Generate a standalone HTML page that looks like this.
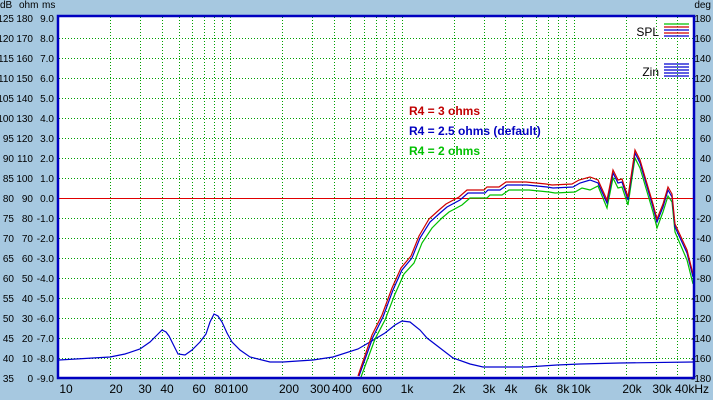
<!DOCTYPE html>
<html><head><meta charset="utf-8"><style>
html,body{margin:0;padding:0;background:#a6c8e0;}
svg{display:block;font-family:"Liberation Sans",sans-serif;}
</style></head><body>
<svg width="713" height="400" viewBox="0 0 713 400" xmlns="http://www.w3.org/2000/svg">
<rect width="713" height="400" fill="#a6c8e0"/>
<rect x="59" y="17" width="634" height="360" fill="#fff"/>
<g stroke="#00a000" stroke-width="1" stroke-dasharray="1,2">
<line x1="59" x2="693" y1="38.5" y2="38.5"/><line x1="59" x2="693" y1="58.5" y2="58.5"/><line x1="59" x2="693" y1="78.5" y2="78.5"/><line x1="59" x2="693" y1="98.5" y2="98.5"/><line x1="59" x2="693" y1="118.5" y2="118.5"/><line x1="59" x2="693" y1="138.5" y2="138.5"/><line x1="59" x2="693" y1="158.5" y2="158.5"/><line x1="59" x2="693" y1="178.5" y2="178.5"/><line x1="59" x2="693" y1="218.5" y2="218.5"/><line x1="59" x2="693" y1="238.5" y2="238.5"/><line x1="59" x2="693" y1="258.5" y2="258.5"/><line x1="59" x2="693" y1="278.5" y2="278.5"/><line x1="59" x2="693" y1="298.5" y2="298.5"/><line x1="59" x2="693" y1="318.5" y2="318.5"/><line x1="59" x2="693" y1="338.5" y2="338.5"/><line x1="59" x2="693" y1="358.5" y2="358.5"/>
<g>
<line y1="17" y2="377" x1="110.5" x2="110.5"/><line y1="17" y2="377" x1="140.5" x2="140.5"/><line y1="17" y2="377" x1="162.5" x2="162.5"/><line y1="17" y2="377" x1="179.5" x2="179.5"/><line y1="17" y2="377" x1="192.5" x2="192.5"/><line y1="17" y2="377" x1="204.5" x2="204.5"/><line y1="17" y2="377" x1="214.5" x2="214.5"/><line y1="17" y2="377" x1="222.5" x2="222.5"/><line y1="17" y2="377" x1="230.5" x2="230.5"/>
<line y1="17" y2="377" x1="282.5" x2="282.5"/><line y1="17" y2="377" x1="312.5" x2="312.5"/><line y1="17" y2="377" x1="334.5" x2="334.5"/><line y1="17" y2="377" x1="350.5" x2="350.5"/><line y1="17" y2="377" x1="364.5" x2="364.5"/><line y1="17" y2="377" x1="376.5" x2="376.5"/><line y1="17" y2="377" x1="386.5" x2="386.5"/><line y1="17" y2="377" x1="394.5" x2="394.5"/><line y1="17" y2="377" x1="402.5" x2="402.5"/>
<line y1="17" y2="377" x1="454.5" x2="454.5"/><line y1="17" y2="377" x1="484.5" x2="484.5"/><line y1="17" y2="377" x1="505.5" x2="505.5"/><line y1="17" y2="377" x1="522.5" x2="522.5"/><line y1="17" y2="377" x1="536.5" x2="536.5"/><line y1="17" y2="377" x1="548.5" x2="548.5"/><line y1="17" y2="377" x1="558.5" x2="558.5"/><line y1="17" y2="377" x1="566.5" x2="566.5"/><line y1="17" y2="377" x1="574.5" x2="574.5"/>
<line y1="17" y2="377" x1="626.5" x2="626.5"/><line y1="17" y2="377" x1="656.5" x2="656.5"/><line y1="17" y2="377" x1="677.5" x2="677.5"/>
</g></g>
<line x1="59" x2="693" y1="198.5" y2="198.5" stroke="#e00000" stroke-width="1"/>
<polyline fill="none" stroke="#0000d0" stroke-width="1.2" points="59,360 110,357 125,354 140,349 150,342 157,335 162,330 166,332 169,336 174,346 178,354 185,355 192,350 200,342 206,334 210,322 214,314 218,316 222,322 227,333 232,342 240,350 250,357 270,362 283,362 313,360 333,357 358,349 370,342 385,333 395,325 402,321 410,322 420,330 427,338 440,348 453,358 470,364 483,367 527,367 557,365 580,364 620,363 693,362"/>
<polyline fill="none" stroke="#00c000" stroke-width="1.2" points="361,377 375,339 385,320 395,294 404,274 414,263 422,243 432,228 442,218 449,212 462,205 470,198 487,198 490,195 502,195 509,190 529,190 549,192 555,193 575,192 582,188 590,190 598,186 607,208 613,178 618,188 622,187 628,205 635,158 640,168 653,212 657,228 663,212 668,196 672,202 675,232 687,260 693,284"/>
<polyline fill="none" stroke="#0000d0" stroke-width="1.2" points="359,376 373,337 383,317 393,290 402,270 412,258 420,238 430,222 440,213 447,207 460,200 468,193 485,193 488,190 500,190 507,185 527,185 547,187 553,188 573,187 580,183 590,180 598,183 607,203 613,173 618,183 622,182 628,200 635,153 640,163 653,207 657,222 663,207 668,190 672,197 675,227 687,253 693,277"/>
<polyline fill="none" stroke="#d00000" stroke-width="1.2" points="358,376 372,335 382,315 392,288 401,268 411,256 419,236 429,219 439,210 446,204 459,197 467,190 484,190 487,187 499,187 506,182 526,182 546,184 552,185 572,184 579,180 590,177 598,180 607,200 613,170 618,180 622,179 628,197 635,150 640,160 653,204 657,219 663,204 668,187 672,194 675,224 687,250 693,274"/>
<rect x="58" y="16" width="636" height="362" fill="none" stroke="#0000c0" stroke-width="2.5"/>
<text x="659" y="36" font-size="12" text-anchor="end">SPL</text>
<g stroke-width="1.3"><line x1="664" x2="689" y1="24" y2="24" stroke="#00c000"/><line x1="664" x2="689" y1="27" y2="27" stroke="#d00000"/><line x1="664" x2="689" y1="30" y2="30" stroke="#0000d0"/><line x1="664" x2="689" y1="33" y2="33" stroke="#d00000"/><line x1="664" x2="689" y1="36" y2="36" stroke="#0000d0"/>
<line x1="664" x2="689" y1="64" y2="64" stroke="#0000d0"/><line x1="664" x2="689" y1="67" y2="67" stroke="#0000d0"/><line x1="664" x2="689" y1="70" y2="70" stroke="#0000d0"/><line x1="664" x2="689" y1="73" y2="73" stroke="#0000d0"/><line x1="664" x2="689" y1="76" y2="76" stroke="#0000d0"/></g>
<text x="659" y="76" font-size="12" text-anchor="end">Zin</text>
<g font-size="12" font-weight="bold"><text x="409" y="115" fill="#c00000">R4 = 3 ohms</text><text x="409" y="135" fill="#0000c0">R4 = 2.5 ohms (default)</text><text x="409" y="155" fill="#00c000">R4 = 2 ohms</text></g>
<g font-size="10" fill="#000">
<text x="0" y="8">dB</text><text x="19" y="8">ohm</text><text x="42" y="8">ms</text><text x="711" y="8" text-anchor="end">deg</text>
<g text-anchor="end">
<text x="14" y="22">125</text><text x="14" y="42">120</text><text x="14" y="62">115</text><text x="14" y="82">110</text><text x="14" y="102">105</text><text x="14" y="122">100</text><text x="14" y="142">95</text><text x="14" y="162">90</text><text x="14" y="182">85</text><text x="14" y="202">80</text><text x="14" y="222">75</text><text x="14" y="242">70</text><text x="14" y="262">65</text><text x="14" y="282">60</text><text x="14" y="302">55</text><text x="14" y="322">50</text><text x="14" y="342">45</text><text x="14" y="362">40</text><text x="14" y="382">35</text>
<text x="33" y="22">180</text><text x="33" y="42">170</text><text x="33" y="62">160</text><text x="33" y="82">150</text><text x="33" y="102">140</text><text x="33" y="122">130</text><text x="33" y="142">120</text><text x="33" y="162">110</text><text x="33" y="182">100</text><text x="33" y="202">90</text><text x="33" y="222">80</text><text x="33" y="242">70</text><text x="33" y="262">60</text><text x="33" y="282">50</text><text x="33" y="302">40</text><text x="33" y="322">30</text><text x="33" y="342">20</text><text x="33" y="362">10</text><text x="33" y="382">0</text>
<text x="54" y="22">9.0</text><text x="54" y="42">8.0</text><text x="54" y="62">7.0</text><text x="54" y="82">6.0</text><text x="54" y="102">5.0</text><text x="54" y="122">4.0</text><text x="54" y="142">3.0</text><text x="54" y="162">2.0</text><text x="54" y="182">1.0</text><text x="54" y="202">0.0</text><text x="54" y="222">-1.0</text><text x="54" y="242">-2.0</text><text x="54" y="262">-3.0</text><text x="54" y="282">-4.0</text><text x="54" y="302">-5.0</text><text x="54" y="322">-6.0</text><text x="54" y="342">-7.0</text><text x="54" y="362">-8.0</text><text x="54" y="382">-9.0</text>
<text x="711" y="22">180</text><text x="711" y="42">160</text><text x="711" y="62">140</text><text x="711" y="82">120</text><text x="711" y="102">100</text><text x="711" y="122">80</text><text x="711" y="142">60</text><text x="711" y="162">40</text><text x="711" y="182">20</text><text x="711" y="202">0</text><text x="711" y="222">-20</text><text x="711" y="242">-40</text><text x="711" y="262">-60</text><text x="711" y="282">-80</text><text x="711" y="302">-100</text><text x="711" y="322">-120</text><text x="711" y="342">-140</text><text x="711" y="362">-160</text><text x="711" y="382">-180</text>
</g></g>
<g font-size="12" text-anchor="middle">
<text x="66" y="393">10</text><text x="116" y="393">20</text><text x="145" y="393">30</text><text x="167" y="393">40</text><text x="199" y="393">60</text><text x="221" y="393">80</text><text x="238" y="393">100</text><text x="289" y="393">200</text><text x="320" y="393">300</text><text x="342" y="393">400</text><text x="372" y="393">600</text><text x="407" y="393">1k</text><text x="459" y="393">2k</text><text x="489" y="393">3k</text><text x="511" y="393">4k</text><text x="541" y="393">6k</text><text x="563" y="393">8k</text><text x="581" y="393">10k</text><text x="632" y="393">20k</text><text x="662" y="393">30k</text><text x="692" y="393">40kHz</text>
</g>
</svg>
</body></html>
